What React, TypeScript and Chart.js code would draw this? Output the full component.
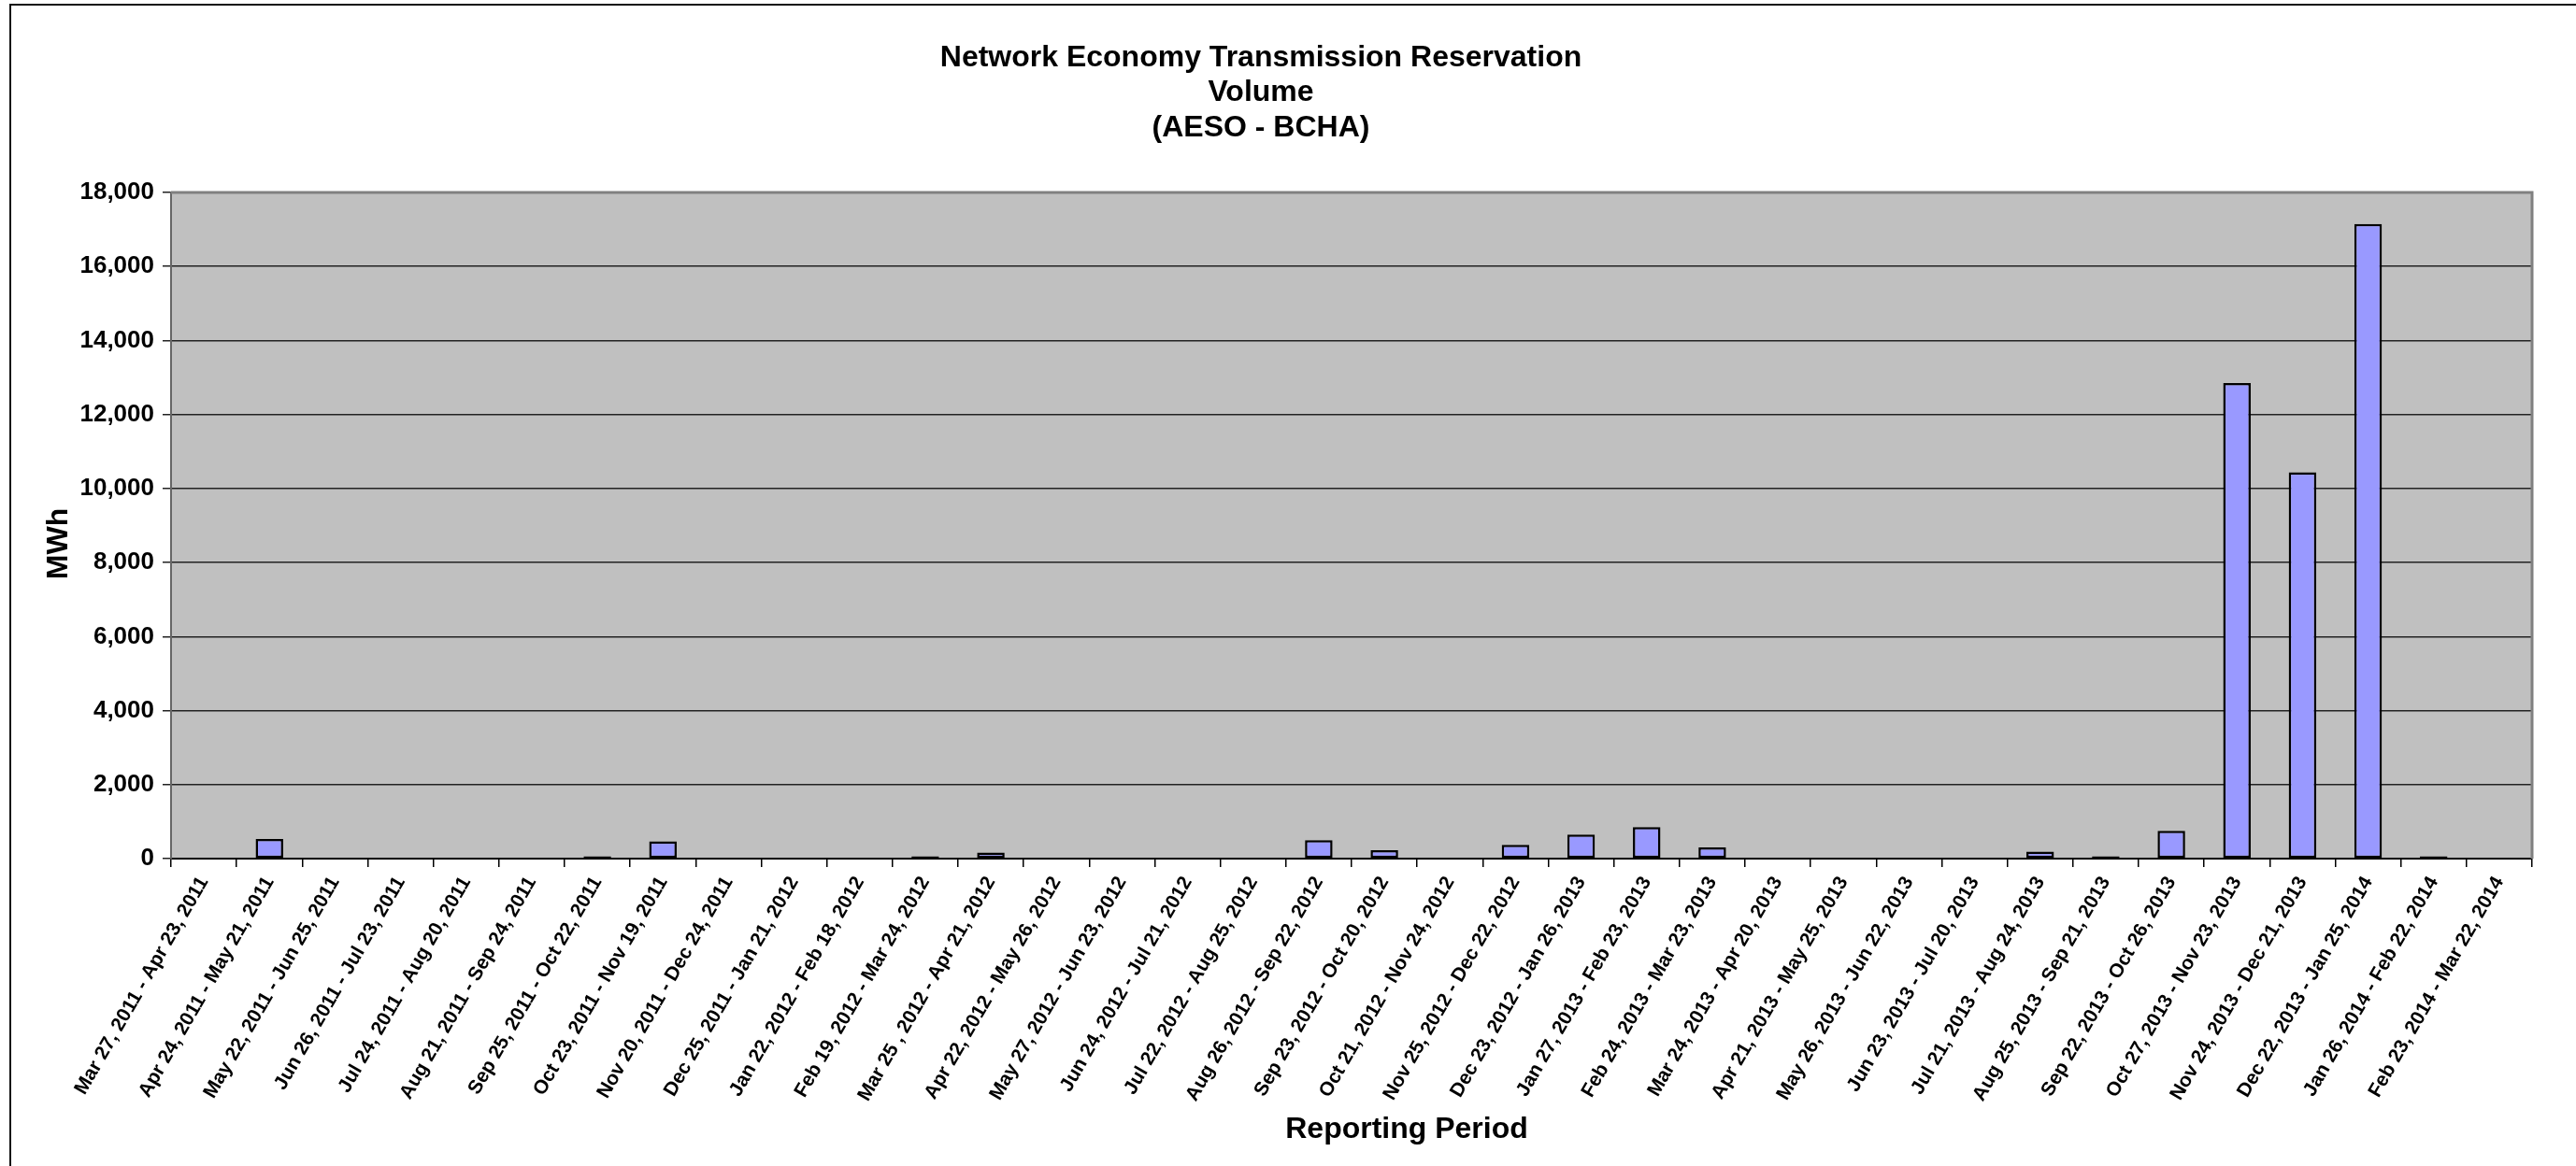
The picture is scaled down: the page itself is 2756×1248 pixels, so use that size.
import React, { useEffect, useRef } from "react";
import { Chart, registerables } from "chart.js";

Chart.register(...registerables);

const categories: string[] = [
  "Mar 27, 2011 - Apr 23, 2011",
  "Apr 24, 2011 - May 21, 2011",
  "May 22, 2011 - Jun 25, 2011",
  "Jun 26, 2011 - Jul 23, 2011",
  "Jul 24, 2011 - Aug 20, 2011",
  "Aug 21, 2011 - Sep 24, 2011",
  "Sep 25, 2011 - Oct 22, 2011",
  "Oct 23, 2011 - Nov 19, 2011",
  "Nov 20, 2011 - Dec 24, 2011",
  "Dec 25, 2011 - Jan 21, 2012",
  "Jan 22, 2012 - Feb 18, 2012",
  "Feb 19, 2012 - Mar 24, 2012",
  "Mar 25 , 2012 - Apr 21, 2012",
  "Apr 22, 2012 - May 26, 2012",
  "May 27, 2012 - Jun 23, 2012",
  "Jun 24, 2012 - Jul 21, 2012",
  "Jul 22, 2012 - Aug 25, 2012",
  "Aug 26, 2012 - Sep 22, 2012",
  "Sep 23, 2012 - Oct 20, 2012",
  "Oct 21, 2012 - Nov 24, 2012",
  "Nov 25, 2012 - Dec 22, 2012",
  "Dec 23, 2012 - Jan 26, 2013",
  "Jan 27, 2013 - Feb 23, 2013",
  "Feb 24, 2013 - Mar 23, 2013",
  "Mar 24, 2013 - Apr 20, 2013",
  "Apr 21, 2013 - May 25, 2013",
  "May 26, 2013 - Jun 22, 2013",
  "Jun 23, 2013 - Jul 20, 2013",
  "Jul 21, 2013 - Aug 24, 2013",
  "Aug 25, 2013 - Sep 21, 2013",
  "Sep 22, 2013 - Oct 26, 2013",
  "Oct 27, 2013 - Nov 23, 2013",
  "Nov 24, 2013 - Dec 21, 2013",
  "Dec 22, 2013 - Jan 25, 2014",
  "Jan 26, 2014 - Feb 22, 2014",
  "Feb 23, 2014 - Mar 22, 2014",
];

const volumeMWh: number[] = [
  0, 530, 0, 0, 0, 0, 65, 470, 0, 0, 0, 65,
  165, 0, 0, 0, 0, 500, 230, 0, 370, 650, 850, 300,
  0, 0, 0, 0, 190, 65, 750, 12850, 10440, 17150, 65, 0,
];

const titleLines: string[] = [
  "Network Economy Transmission Reservation",
  "Volume",
  "(AESO - BCHA)",
];
const xAxisTitle = "Reporting Period";
const yAxisTitle = "MWh";

const yMin = 0;
const yMax = 18000;
const yStep = 2000;

const FONT = "'Liberation Sans', Arial, Helvetica, sans-serif";

const decorPlugin = {
  id: "decor",
  beforeDraw(chart: any) {
    const { ctx, chartArea: a } = chart;
    ctx.save();
    ctx.fillStyle = "#C0C0C0";
    ctx.fillRect(a.left, a.top, a.right - a.left, a.bottom - a.top);
    // outer chart frame (left + top edges visible)
    ctx.strokeStyle = "#111";
    ctx.lineWidth = 2;
    ctx.beginPath();
    ctx.moveTo(11, chart.height);
    ctx.lineTo(11, 5);
    ctx.lineTo(chart.width, 5);
    ctx.stroke();
    ctx.restore();
  },
  afterDraw(chart: any) {
    const { ctx, chartArea: a } = chart;
    ctx.save();
    // plot area top/right border
    ctx.strokeStyle = "#808080";
    ctx.lineWidth = 3;
    ctx.beginPath();
    ctx.moveTo(a.left, a.top);
    ctx.lineTo(a.right, a.top);
    ctx.lineTo(a.right, a.bottom);
    ctx.stroke();

    ctx.fillStyle = "#000";
    ctx.textAlign = "center";
    ctx.textBaseline = "middle";
    ctx.font = `bold 32px ${FONT}`;
    const ys = [62, 99, 137];
    titleLines.forEach((t, i) => ctx.fillText(t, 1349, ys[i]));

    ctx.font = `bold 32px ${FONT}`;
    ctx.fillText(xAxisTitle, 1505, 1209);

    ctx.translate(63, 582);
    ctx.rotate(-Math.PI / 2);
    ctx.font = `bold 32px ${FONT}`;
    ctx.fillText(yAxisTitle, 0, 0);
    ctx.restore();
  },
};

export default function App() {
  const ref = useRef<HTMLCanvasElement | null>(null);

  useEffect(() => {
    if (!ref.current) return;
    const chart = new Chart(ref.current, {
      type: "bar",
      data: {
        labels: categories,
        datasets: [
          {
            label: "Volume (MWh)",
            data: volumeMWh,
            backgroundColor: "#9999FF",
            borderColor: "#000000",
            borderWidth: 2.5,
            borderSkipped: false,
            barPercentage: 0.42,
            categoryPercentage: 1.0,
          },
        ],
      },
      options: {
        responsive: false,
        animation: false,
        layout: { padding: { top: 206, right: 47, bottom: 0, left: 0 } },
        plugins: {
          legend: { display: false },
          title: { display: false },
          tooltip: { enabled: false },
        },
        scales: {
          x: {
            afterFit: (s: any) => {
              s.height = 1248 - 919;
            },
            grid: {
              display: true,
              drawOnChartArea: false,
              drawTicks: true,
              tickLength: 9,
              color: "#000",
              lineWidth: 1.5,
            },
            border: { display: true, color: "#000", width: 2 },
            ticks: {
              autoSkip: false,
              minRotation: 60,
              maxRotation: 60,
              padding: 6,
              color: "#000",
              font: { family: FONT, size: 21, weight: "bold" },
            },
          },
          y: {
            min: yMin,
            max: yMax,
            afterFit: (s: any) => {
              s.width = 183;
            },
            grid: {
              color: "#222",
              lineWidth: 1.5,
              drawTicks: true,
              tickLength: 9,
            },
            border: { display: true, color: "#666", width: 2 },
            ticks: {
              stepSize: yStep,
              padding: 9,
              color: "#000",
              font: { family: FONT, size: 26, weight: "bold" },
            },
          },
        },
      },
      plugins: [decorPlugin],
    });
    return () => chart.destroy();
  }, []);

  return (
    <div
      style={{
        position: "fixed",
        left: 0,
        top: 0,
        width: 2756,
        height: 1248,
        background: "#fff",
      }}
    >
      <canvas
        ref={ref}
        width={2756}
        height={1248}
        style={{ width: 2756, height: 1248, display: "block" }}
      />
    </div>
  );
}
